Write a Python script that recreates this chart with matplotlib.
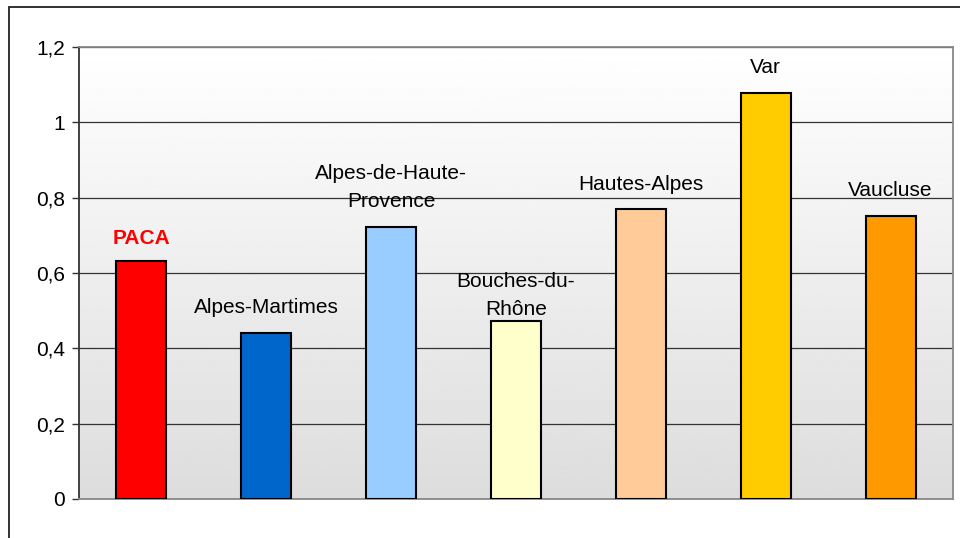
import numpy as np
import matplotlib
matplotlib.use("Agg")
import matplotlib.pyplot as plt
from matplotlib.patches import Rectangle

plt.rcParams["font.family"] = ["Liberation Sans", "DejaVu Sans"]

# data
departements = ["PACA", "Alpes-Martimes", "Alpes-de-Haute-\nProvence", "Bouches-du-\nRhône",
                "Hautes-Alpes", "Var", "Vaucluse"]
valeurs = [0.632, 0.44, 0.722, 0.472, 0.77, 1.078, 0.751]
couleurs = ["#ff0000", "#0066cc", "#99ccff", "#ffffcc", "#ffcc99", "#ffcc00", "#ff9900"]
label_colors = ["#ff0000", "black", "black", "black", "black", "black", "black"]
label_bold = [True, False, False, False, False, False, False]
label_gap_px = [17, 20, 20, 6, 19, 20, 20]  # baseline distance above bar top
yticks = [0, 0.2, 0.4, 0.6, 0.8, 1.0, 1.2]
ytick_labels = ["0", "0,2", "0,4", "0,6", "0,8", "1", "1,2"]

W, H = 960, 538
fig = plt.figure(figsize=(W / 100, H / 100), dpi=100)
ax = fig.add_axes([79 / W, 1 - 499 / H, (953 - 79) / W, (499 - 47) / H])

# outer chart frame (runs off right/bottom like the original)
fig.patches.append(Rectangle((9 / W, -0.1), 1.2, 1 - 7 / H + 0.1, transform=fig.transFigure,
                             fill=False, edgecolor="#222222", linewidth=1.3))

x = np.arange(len(departements))
ax.set_xlim(-0.5, len(departements) - 0.5)
ax.set_ylim(0, 1.2)

# gradient plot background
grad = np.linspace(0.865, 1.0, 256).reshape(-1, 1)
ax.imshow(grad, cmap="gray", vmin=0, vmax=1, aspect="auto", origin="lower",
          extent=[-0.5, len(departements) - 0.5, 0, 1.2], zorder=0)

ax.set_yticks(yticks)
ax.set_yticklabels(ytick_labels)
ax.yaxis.grid(True, color="#333333", linewidth=0.9, zorder=1)
ax.set_axisbelow(True)

ax.bar(x, valeurs, width=0.4, color=couleurs, edgecolor="black", linewidth=1.5, zorder=3)

for xi, v, lab, c, b, gap in zip(x, valeurs, departements, label_colors, label_bold, label_gap_px):
    ax.annotate(lab, (xi, v), xytext=(0, gap * 0.72), textcoords="offset points",
                ha="center", va="baseline", fontsize=15, color=c,
                fontweight="bold" if b else "normal", linespacing=1.6, zorder=4,
                multialignment="center")

ax.set_xticks([])
ax.tick_params(axis="y", direction="out", length=5, width=1, color="#333333",
               labelsize=15, pad=5)
ax.spines["left"].set_color("#333333")
ax.spines["left"].set_linewidth(1.3)
for s in ["top", "right", "bottom"]:
    ax.spines[s].set_color("#888888")
    ax.spines[s].set_linewidth(1.3)

fig.savefig("out.png", dpi=100)
